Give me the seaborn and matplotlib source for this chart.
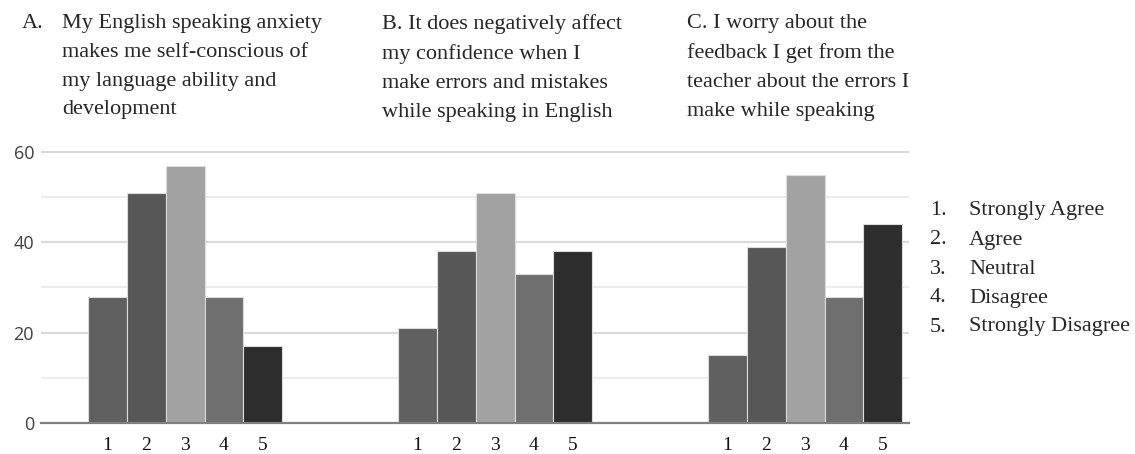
import matplotlib
matplotlib.use("Agg")
import matplotlib.pyplot as plt
import seaborn as sns
import pandas as pd
import numpy as np

# ---- data ----
groups = ["A", "B", "C"]
responses = ["1", "2", "3", "4", "5"]
values_A = [28, 51, 57, 28, 17]
values_B = [21, 38, 51, 33, 38]
values_C = [15, 39, 55, 28, 44]
bar_colors = ["#606060", "#575757", "#a2a2a2", "#6f6f6f", "#2d2d2d"]
titles = [
    "My English speaking anxiety\nmakes me self-conscious of\nmy language ability and\ndevelopment",
    "B. It does negatively affect\nmy confidence when I\nmake errors and mistakes\nwhile speaking in English",
    "C. I worry about the\nfeedback I get from the\nteacher about the errors I\nmake while speaking",
]
legend_labels = ["Strongly Agree", "Agree", "Neutral", "Disagree", "Strongly Disagree"]

rows = []
for g, vals in zip(groups, [values_A, values_B, values_C]):
    for r, v in zip(responses, vals):
        rows.append({"group": g, "response": r, "value": v})
df = pd.DataFrame(rows)

sns.set_theme(style="white")
plt.rcParams["font.family"] = ["Liberation Serif", "DejaVu Sans"]

fig = plt.figure(figsize=(11.35, 4.54), dpi=100)
ax = fig.add_axes([41 / 1135, 1 - 423 / 454, (909 - 41) / 1135, (423 - 149.7) / 454])

sns.barplot(data=df, x="group", y="value", hue="response", hue_order=responses,
            palette=bar_colors, width=0.625, saturation=1, dodge=True,
            edgecolor="#dcdcdc", linewidth=0.8, legend=False, ax=ax, errorbar=None)

ax.set_xlim(-0.465, 2.335)
ax.set_ylim(0, 60.5)

# gridlines
for y in [10, 30, 50]:
    ax.axhline(y, color="#ececec", lw=1.5, zorder=0)
for y in [20, 40, 60]:
    ax.axhline(y, color="#d9d9d9", lw=1.5, zorder=0)

for s in ["top", "right", "left"]:
    ax.spines[s].set_visible(False)
ax.spines["bottom"].set_color("#7f7f7f")
ax.spines["bottom"].set_linewidth(1.6)

ax.set_yticks([0, 20, 40, 60])
ax.set_yticklabels(["0", "20", "40", "60"], family="Open Sans", fontsize=13, color="#404040")
ax.tick_params(axis="y", length=0, pad=5)

# x tick labels under each bar
centers = sorted(p.get_x() + p.get_width() / 2 for p in ax.patches if p.get_height() > 0)
lbls = [responses[i % 5] for i in range(len(centers))]
ax.set_xticks(centers)
ax.set_xticklabels(lbls, fontsize=14, color="#111111")
ax.tick_params(axis="x", length=0, pad=10)
ax.set_xlabel("")
ax.set_ylabel("")

# titles
fs = 16
ls = 1.7
ty = 1 - 14 / 454
fig.text(22 / 1135, ty, "A.", fontsize=fs, va="top", ha="left", linespacing=ls)
fig.text(62 / 1135, ty, titles[0], fontsize=fs, va="top", ha="left", linespacing=ls)
fig.text(382 / 1135, ty, titles[1], fontsize=fs, va="top", ha="left", linespacing=ls)
fig.text(687 / 1135, ty, titles[2], fontsize=fs, va="top", ha="left", linespacing=ls)

# legend text
for i, lab in enumerate(legend_labels):
    y = 1 - (211 + i * 29) / 454
    fig.text(930 / 1135, y, f"{i + 1}.", fontsize=fs, va="center", ha="left")
    fig.text(969 / 1135, y, lab, fontsize=fs, va="center", ha="left")

fig.savefig("out.png", dpi=100, facecolor="white")
